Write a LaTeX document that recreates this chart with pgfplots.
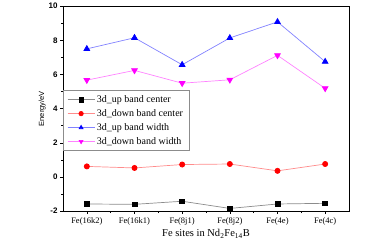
\documentclass[border=0pt]{standalone}
\usepackage{fontspec}
\setmainfont{Liberation Serif}
\newfontfamily\arialf{Liberation Sans}
\usepackage{pgfplots}
\pgfplotsset{compat=1.18}

\definecolor{lgray}{RGB}{140,140,140}
\definecolor{lred}{RGB}{255,140,140}
\definecolor{lblue}{RGB}{130,130,255}
\definecolor{lmag}{RGB}{255,130,255}
\definecolor{magm}{RGB}{255,0,255}

\pgfplotsset{
  longleg/.style={legend image code/.code={
    \draw[mark repeat=2, mark phase=2, mark size=2.2pt]
      plot coordinates {(0pt,0pt) (13.5pt,0pt) (27pt,0pt)};}},
}

\begin{document}
\begin{tikzpicture}
\begin{axis}[
    scale only axis,
    width=286pt, height=205pt,
    xmin=-0.5, xmax=5.5,
    ymin=-2, ymax=10,
    xtick={0,...,5},
    xticklabels={Fe(16k2),Fe(16k1),Fe(8j1),Fe(8j2),Fe(4e),Fe(4c)},
    minor xtick={0.5,1.5,2.5,3.5,4.5},
    ytick={-2,0,2,4,6,8,10},
    minor ytick={-1,1,3,5,7,9},
    tick pos=left,
    tick align=outside,
    major tick length=3pt,
    minor tick length=2pt,
    every tick/.style={black, line width=0.6pt},
    axis line style={line width=0.6pt},
    x tick label style={font=\fontsize{8.5}{9}\selectfont, yshift=0pt},
    y tick label style={font=\arialf\bfseries\fontsize{8}{9}\selectfont, xshift=1pt},
    yticklabel={\pgfmathprintnumber[assume math mode=true]{\tick}},
    xlabel={Fe sites in Nd\textsubscript{2}Fe\textsubscript{14}B},
    xlabel style={font=\fontsize{10.5}{11}\selectfont, yshift=3pt},
    ylabel={Energy/eV},
    ylabel style={font=\arialf\fontsize{7.5}{8}\selectfont, yshift=-4pt},
    legend style={at={(rel axis cs:0,0.59)}, anchor=north west,
        draw=lgray, line width=0.5pt, font=\fontsize{10}{11}\selectfont,
        inner xsep=4pt, inner ysep=3pt, row sep=1.5pt},
    legend cell align=left,
    clip=false,
]
\addplot[lgray, line width=0.7pt, mark=square*, mark size=2.4pt,
    mark options={fill=black, draw=black}, longleg]
    coordinates {(0,-1.58) (1,-1.6) (2,-1.42) (3,-1.84) (4,-1.58) (5,-1.54)};
\addlegendentry{3d\_up band center}
\addplot[lred, line width=0.7pt, mark=*, mark size=2.6pt,
    mark options={fill=red, draw=red}, longleg]
    coordinates {(0,0.62) (1,0.53) (2,0.73) (3,0.76) (4,0.36) (5,0.76)};
\addlegendentry{3d\_down band center}
\addplot[lblue, line width=0.7pt, mark=triangle*, mark size=3.3pt,
    mark options={fill=blue, draw=blue}, longleg]
    coordinates {(0,7.5) (1,8.15) (2,6.57) (3,8.14) (4,9.08) (5,6.75)};
\addlegendentry{3d\_up band width}
\addplot[lmag, line width=0.7pt, mark=triangle*, mark size=3.3pt,
    mark options={fill=magm, draw=magm, rotate=180}, longleg]
    coordinates {(0,5.67) (1,6.24) (2,5.49) (3,5.69) (4,7.12) (5,5.19)};
\addlegendentry{3d\_down band width}
\end{axis}
\path (-63pt,-36pt) rectangle (317pt,209pt);
\end{tikzpicture}
\end{document}
